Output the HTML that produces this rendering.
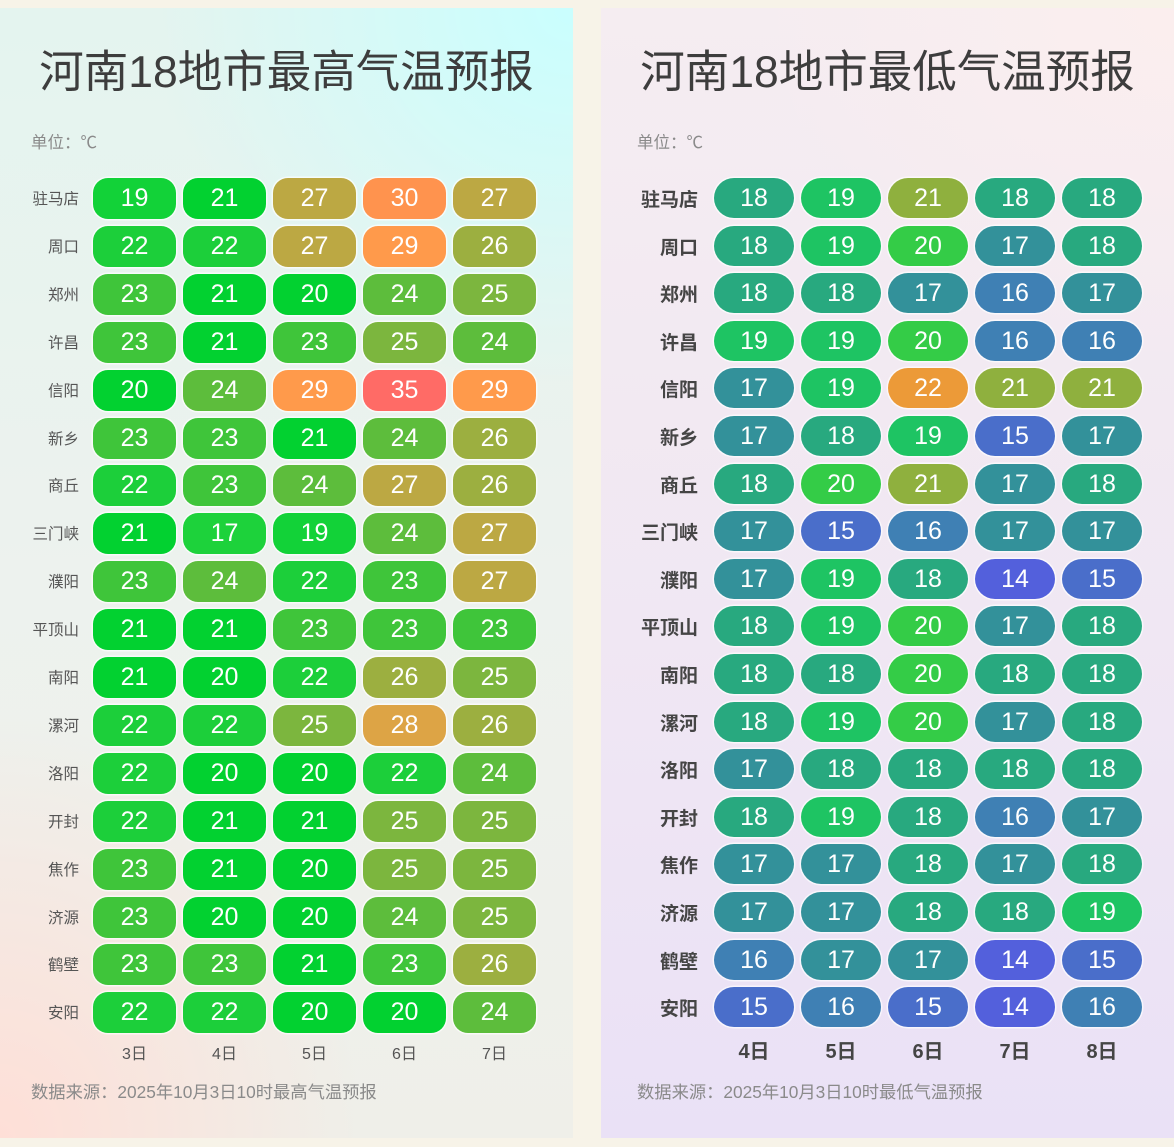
<!DOCTYPE html>
<html><head><meta charset="utf-8">
<style>
*{margin:0;padding:0;box-sizing:border-box}
html,body{width:1174px;height:1147px;overflow:hidden;background:#f7f3e8;font-family:"Liberation Sans","Noto Sans CJK SC",sans-serif}
.pl{position:absolute;left:0;top:8px;width:573px;height:1130px;
background:
radial-gradient(ellipse 420px 380px at 100% 0%, rgba(200,255,255,0.95), rgba(200,255,255,0) 100%),
radial-gradient(ellipse 360px 420px at 0% 100%, rgba(255,222,214,0.95), rgba(255,222,214,0) 100%),
linear-gradient(180deg,#e4f4ef 0%,#edf2ee 50%,#efefe9 100%);}
.pr{position:absolute;left:601px;top:8px;width:573px;height:1130px;
background:
radial-gradient(ellipse 420px 360px at 100% 0%, rgba(252,238,238,0.9), rgba(252,238,238,0) 100%),
linear-gradient(180deg,#f5edf1 0%,#f0e7f3 55%,#eae1f6 100%);}
.t{position:absolute;top:46px;height:54px;line-height:54px;width:573px;text-align:center;font-family:"Liberation Sans","Noto Sans CJK SC",sans-serif;font-size:44.5px;color:#3d3d3d;white-space:nowrap}
.u{position:absolute;top:131px;font-family:"Noto Sans CJK SC",sans-serif;font-size:16.5px;color:#8a8a8a;line-height:20px}
.src{position:absolute;top:1081px;font-family:"Liberation Sans","Noto Sans CJK SC",sans-serif;font-size:17.3px;color:#8a8a8a;line-height:22px;white-space:nowrap}
.row{position:absolute;height:41px}
.lab{position:absolute;top:0;height:41px;line-height:41px;text-align:right;white-space:nowrap;font-family:"Noto Sans CJK SC",sans-serif}
.L .lab{left:0;width:79px;font-size:15.5px;color:#555}
.R .lab{left:-601px;width:698px;font-size:19px;font-weight:bold;color:#454545}
.c{position:absolute;top:0;color:#fff;text-align:center;font-family:"Liberation Sans",sans-serif;font-size:25px;box-shadow:0 0 0 1.5px rgba(255,255,255,0.65)}
.L .c{width:83px;height:41px;line-height:41px;border-radius:15px}
.R .c{width:80px;height:40px;line-height:40px;border-radius:20px}
.L .c0{left:93px}.L .c1{left:183px}.L .c2{left:273px}.L .c3{left:363px}.L .c4{left:453px}
.R .c0{left:113px}.R .c1{left:200px}.R .c2{left:287px}.R .c3{left:374px}.R .c4{left:461px}
.L{left:0;width:573px}
.R{left:601px;width:573px}
.h17{background:#1dd23b}.h19{background:#12d238}.h20{background:#02d130}.h21{background:#02d130}.h22{background:#1ccf3a}
.h23{background:#3fc53a}.h24{background:#5dbd3c}.h25{background:#7cb63e}.h26{background:#9caf40}.h27{background:#bca843}
.h28{background:#dda445}.h29{background:#ff9a4b}.h30{background:#ff934e}.h35{background:#ff6b66}
.l14{background:#5360dc}.l15{background:#4a6eca}.l16{background:#3f80b4}.l17{background:#33919a}.l18{background:#28a97f}
.l19{background:#1ec463}.l20{background:#34cc47}.l21{background:#8fb03e}.l22{background:#ec9a38}
.xl{position:absolute;text-align:center;white-space:nowrap;font-family:"Liberation Sans","Noto Sans CJK SC",sans-serif}
.xL{top:1044px;width:83px;font-size:16px;color:#555;line-height:22px}
.xR{top:1039px;width:80px;font-size:20px;font-weight:bold;color:#454545;line-height:26px}
</style></head><body>
<div class="pl"></div>
<div class="pr"></div>

<div class="t" style="left:0">河南18地市最高气温预报</div>
<div class="t" style="left:601px">河南18地市最低气温预报</div>
<div class="u" style="left:31px">单位：℃</div>
<div class="u" style="left:637px">单位：℃</div>

<!-- LEFT -->
<div class="row L" style="top:178px"><div class="lab">驻马店</div><div class="c c0 h19">19</div><div class="c c1 h21">21</div><div class="c c2 h27">27</div><div class="c c3 h30">30</div><div class="c c4 h27">27</div></div>
<div class="row L" style="top:225.9px"><div class="lab">周口</div><div class="c c0 h22">22</div><div class="c c1 h22">22</div><div class="c c2 h27">27</div><div class="c c3 h29">29</div><div class="c c4 h26">26</div></div>
<div class="row L" style="top:273.8px"><div class="lab">郑州</div><div class="c c0 h23">23</div><div class="c c1 h21">21</div><div class="c c2 h20">20</div><div class="c c3 h24">24</div><div class="c c4 h25">25</div></div>
<div class="row L" style="top:321.7px"><div class="lab">许昌</div><div class="c c0 h23">23</div><div class="c c1 h21">21</div><div class="c c2 h23">23</div><div class="c c3 h25">25</div><div class="c c4 h24">24</div></div>
<div class="row L" style="top:369.6px"><div class="lab">信阳</div><div class="c c0 h20">20</div><div class="c c1 h24">24</div><div class="c c2 h29">29</div><div class="c c3 h35">35</div><div class="c c4 h29">29</div></div>
<div class="row L" style="top:417.5px"><div class="lab">新乡</div><div class="c c0 h23">23</div><div class="c c1 h23">23</div><div class="c c2 h21">21</div><div class="c c3 h24">24</div><div class="c c4 h26">26</div></div>
<div class="row L" style="top:465.4px"><div class="lab">商丘</div><div class="c c0 h22">22</div><div class="c c1 h23">23</div><div class="c c2 h24">24</div><div class="c c3 h27">27</div><div class="c c4 h26">26</div></div>
<div class="row L" style="top:513.3px"><div class="lab">三门峡</div><div class="c c0 h21">21</div><div class="c c1 h17">17</div><div class="c c2 h19">19</div><div class="c c3 h24">24</div><div class="c c4 h27">27</div></div>
<div class="row L" style="top:561.2px"><div class="lab">濮阳</div><div class="c c0 h23">23</div><div class="c c1 h24">24</div><div class="c c2 h22">22</div><div class="c c3 h23">23</div><div class="c c4 h27">27</div></div>
<div class="row L" style="top:609.1px"><div class="lab">平顶山</div><div class="c c0 h21">21</div><div class="c c1 h21">21</div><div class="c c2 h23">23</div><div class="c c3 h23">23</div><div class="c c4 h23">23</div></div>
<div class="row L" style="top:657px"><div class="lab">南阳</div><div class="c c0 h21">21</div><div class="c c1 h20">20</div><div class="c c2 h22">22</div><div class="c c3 h26">26</div><div class="c c4 h25">25</div></div>
<div class="row L" style="top:704.9px"><div class="lab">漯河</div><div class="c c0 h22">22</div><div class="c c1 h22">22</div><div class="c c2 h25">25</div><div class="c c3 h28">28</div><div class="c c4 h26">26</div></div>
<div class="row L" style="top:752.8px"><div class="lab">洛阳</div><div class="c c0 h22">22</div><div class="c c1 h20">20</div><div class="c c2 h20">20</div><div class="c c3 h22">22</div><div class="c c4 h24">24</div></div>
<div class="row L" style="top:800.7px"><div class="lab">开封</div><div class="c c0 h22">22</div><div class="c c1 h21">21</div><div class="c c2 h21">21</div><div class="c c3 h25">25</div><div class="c c4 h25">25</div></div>
<div class="row L" style="top:848.6px"><div class="lab">焦作</div><div class="c c0 h23">23</div><div class="c c1 h21">21</div><div class="c c2 h20">20</div><div class="c c3 h25">25</div><div class="c c4 h25">25</div></div>
<div class="row L" style="top:896.5px"><div class="lab">济源</div><div class="c c0 h23">23</div><div class="c c1 h20">20</div><div class="c c2 h20">20</div><div class="c c3 h24">24</div><div class="c c4 h25">25</div></div>
<div class="row L" style="top:944.4px"><div class="lab">鹤壁</div><div class="c c0 h23">23</div><div class="c c1 h23">23</div><div class="c c2 h21">21</div><div class="c c3 h23">23</div><div class="c c4 h26">26</div></div>
<div class="row L" style="top:992.3px"><div class="lab">安阳</div><div class="c c0 h22">22</div><div class="c c1 h22">22</div><div class="c c2 h20">20</div><div class="c c3 h20">20</div><div class="c c4 h24">24</div></div>

<div class="xl xL" style="left:93px">3日</div>
<div class="xl xL" style="left:183px">4日</div>
<div class="xl xL" style="left:273px">5日</div>
<div class="xl xL" style="left:363px">6日</div>
<div class="xl xL" style="left:453px">7日</div>

<!-- RIGHT -->
<div class="row R" style="top:178px"><div class="lab">驻马店</div><div class="c c0 l18">18</div><div class="c c1 l19">19</div><div class="c c2 l21">21</div><div class="c c3 l18">18</div><div class="c c4 l18">18</div></div>
<div class="row R" style="top:225.6px"><div class="lab">周口</div><div class="c c0 l18">18</div><div class="c c1 l19">19</div><div class="c c2 l20">20</div><div class="c c3 l17">17</div><div class="c c4 l18">18</div></div>
<div class="row R" style="top:273.2px"><div class="lab">郑州</div><div class="c c0 l18">18</div><div class="c c1 l18">18</div><div class="c c2 l17">17</div><div class="c c3 l16">16</div><div class="c c4 l17">17</div></div>
<div class="row R" style="top:320.8px"><div class="lab">许昌</div><div class="c c0 l19">19</div><div class="c c1 l19">19</div><div class="c c2 l20">20</div><div class="c c3 l16">16</div><div class="c c4 l16">16</div></div>
<div class="row R" style="top:368.4px"><div class="lab">信阳</div><div class="c c0 l17">17</div><div class="c c1 l19">19</div><div class="c c2 l22">22</div><div class="c c3 l21">21</div><div class="c c4 l21">21</div></div>
<div class="row R" style="top:416px"><div class="lab">新乡</div><div class="c c0 l17">17</div><div class="c c1 l18">18</div><div class="c c2 l19">19</div><div class="c c3 l15">15</div><div class="c c4 l17">17</div></div>
<div class="row R" style="top:463.6px"><div class="lab">商丘</div><div class="c c0 l18">18</div><div class="c c1 l20">20</div><div class="c c2 l21">21</div><div class="c c3 l17">17</div><div class="c c4 l18">18</div></div>
<div class="row R" style="top:511.2px"><div class="lab">三门峡</div><div class="c c0 l17">17</div><div class="c c1 l15">15</div><div class="c c2 l16">16</div><div class="c c3 l17">17</div><div class="c c4 l17">17</div></div>
<div class="row R" style="top:558.8px"><div class="lab">濮阳</div><div class="c c0 l17">17</div><div class="c c1 l19">19</div><div class="c c2 l18">18</div><div class="c c3 l14">14</div><div class="c c4 l15">15</div></div>
<div class="row R" style="top:606.4px"><div class="lab">平顶山</div><div class="c c0 l18">18</div><div class="c c1 l19">19</div><div class="c c2 l20">20</div><div class="c c3 l17">17</div><div class="c c4 l18">18</div></div>
<div class="row R" style="top:654px"><div class="lab">南阳</div><div class="c c0 l18">18</div><div class="c c1 l18">18</div><div class="c c2 l20">20</div><div class="c c3 l18">18</div><div class="c c4 l18">18</div></div>
<div class="row R" style="top:701.6px"><div class="lab">漯河</div><div class="c c0 l18">18</div><div class="c c1 l19">19</div><div class="c c2 l20">20</div><div class="c c3 l17">17</div><div class="c c4 l18">18</div></div>
<div class="row R" style="top:749.2px"><div class="lab">洛阳</div><div class="c c0 l17">17</div><div class="c c1 l18">18</div><div class="c c2 l18">18</div><div class="c c3 l18">18</div><div class="c c4 l18">18</div></div>
<div class="row R" style="top:796.8px"><div class="lab">开封</div><div class="c c0 l18">18</div><div class="c c1 l19">19</div><div class="c c2 l18">18</div><div class="c c3 l16">16</div><div class="c c4 l17">17</div></div>
<div class="row R" style="top:844.4px"><div class="lab">焦作</div><div class="c c0 l17">17</div><div class="c c1 l17">17</div><div class="c c2 l18">18</div><div class="c c3 l17">17</div><div class="c c4 l18">18</div></div>
<div class="row R" style="top:892px"><div class="lab">济源</div><div class="c c0 l17">17</div><div class="c c1 l17">17</div><div class="c c2 l18">18</div><div class="c c3 l18">18</div><div class="c c4 l19">19</div></div>
<div class="row R" style="top:939.6px"><div class="lab">鹤壁</div><div class="c c0 l16">16</div><div class="c c1 l17">17</div><div class="c c2 l17">17</div><div class="c c3 l14">14</div><div class="c c4 l15">15</div></div>
<div class="row R" style="top:987.2px"><div class="lab">安阳</div><div class="c c0 l15">15</div><div class="c c1 l16">16</div><div class="c c2 l15">15</div><div class="c c3 l14">14</div><div class="c c4 l16">16</div></div>

<div class="xl xR" style="left:714px">4日</div>
<div class="xl xR" style="left:801px">5日</div>
<div class="xl xR" style="left:888px">6日</div>
<div class="xl xR" style="left:975px">7日</div>
<div class="xl xR" style="left:1062px">8日</div>

<div class="src" style="left:31px">数据来源：2025年10月3日10时最高气温预报</div>
<div class="src" style="left:637px">数据来源：2025年10月3日10时最低气温预报</div>
</body></html>
